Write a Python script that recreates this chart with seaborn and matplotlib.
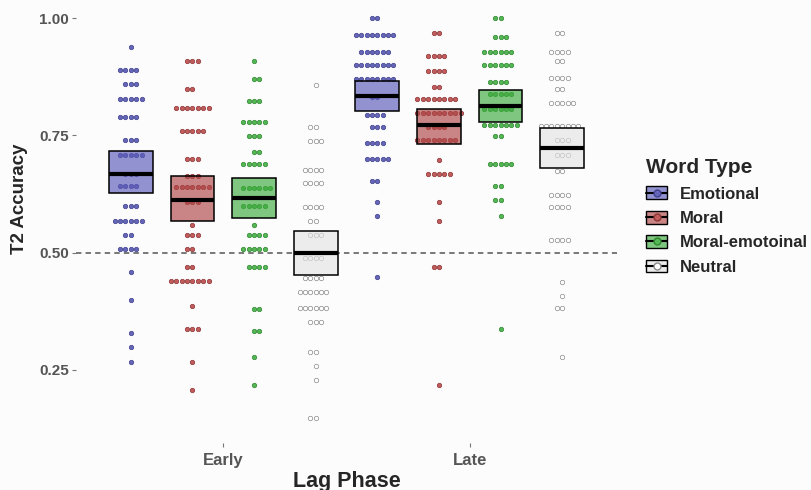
import numpy as np
import pandas as pd
import matplotlib
matplotlib.use('Agg')
import matplotlib.pyplot as plt
import seaborn as sns
from matplotlib.colors import to_rgba
from matplotlib.patches import Patch
from matplotlib.lines import Line2D
from matplotlib.legend_handler import HandlerTuple

# --- dati: livello di accuratezza di ogni riga di punti e numero di punti ---
word_types = ['Emotional', 'Moral', 'Moral-emotoinal', 'Neutral']
lag_phases = ['Early', 'Late']

emo_early_acc = [0.939, 0.889, 0.859, 0.828, 0.788, 0.739, 0.709, 0.668, 0.643, 0.599, 0.568, 0.538, 0.508, 0.459, 0.399, 0.328, 0.298, 0.268]
emo_early_n = [1, 4, 3, 5, 4, 3, 5, 3, 4, 3, 6, 2, 4, 1, 1, 1, 1, 1]
mor_early_acc = [0.909, 0.849, 0.808, 0.759, 0.699, 0.664, 0.640, 0.607, 0.558, 0.538, 0.508, 0.469, 0.439, 0.387, 0.338, 0.268, 0.208]
mor_early_n = [3, 2, 7, 5, 3, 3, 7, 3, 1, 3, 2, 2, 8, 1, 3, 1, 1]
me_early_acc = [0.909, 0.869, 0.823, 0.778, 0.749, 0.714, 0.689, 0.638, 0.599, 0.558, 0.538, 0.508, 0.469, 0.379, 0.333, 0.278, 0.219]
me_early_n = [1, 2, 3, 5, 3, 2, 5, 6, 5, 1, 4, 5, 4, 2, 2, 1, 1]
neu_early_acc = [0.858, 0.768, 0.738, 0.677, 0.648, 0.598, 0.568, 0.538, 0.489, 0.447, 0.417, 0.383, 0.353, 0.288, 0.259, 0.228, 0.148]
neu_early_n = [1, 2, 3, 4, 4, 4, 2, 3, 4, 4, 6, 6, 3, 2, 1, 1, 2]

emo_late_acc = [0.999, 0.964, 0.928, 0.899, 0.870, 0.832, 0.793, 0.768, 0.733, 0.699, 0.653, 0.608, 0.578, 0.449]
emo_late_n = [2, 8, 6, 8, 8, 2, 4, 3, 4, 5, 2, 1, 1, 1]
mor_late_acc = [0.969, 0.919, 0.888, 0.853, 0.828, 0.798, 0.768, 0.739, 0.698, 0.668, 0.608, 0.568, 0.469, 0.218]
mor_late_n = [2, 4, 4, 2, 8, 9, 4, 8, 1, 5, 1, 1, 2, 1]
me_late_acc = [0.999, 0.959, 0.928, 0.899, 0.864, 0.838, 0.807, 0.773, 0.748, 0.688, 0.643, 0.613, 0.578, 0.338]
me_late_n = [2, 3, 6, 6, 4, 5, 6, 7, 2, 5, 2, 2, 1, 1]
neu_late_acc = [0.969, 0.928, 0.908, 0.873, 0.848, 0.818, 0.769, 0.739, 0.709, 0.673, 0.623, 0.598, 0.528, 0.438, 0.407, 0.383, 0.278]
neu_late_n = [2, 4, 2, 4, 2, 5, 8, 3, 3, 2, 4, 4, 4, 1, 1, 2, 1]

# crossbar (media e intervallo), ordine: Early E/M/ME/N, poi Late E/M/ME/N
box_mean = [0.668, 0.613, 0.616, 0.499, 0.833, 0.771, 0.812, 0.722]
box_low = [0.627, 0.567, 0.573, 0.453, 0.802, 0.732, 0.778, 0.681]
box_high = [0.716, 0.663, 0.660, 0.547, 0.865, 0.807, 0.846, 0.765]

# --- colori ---
dot_fill = {'Emotional': '#6666B8', 'Moral': '#C05C5C', 'Moral-emotoinal': '#54B654', 'Neutral': '#FFFFFF'}
dot_edge = {'Emotional': '#40408F', 'Moral': '#8E3434', 'Moral-emotoinal': '#2F872F', 'Neutral': '#8A8A8A'}
box_fill = {'Emotional': '#5A5AB8', 'Moral': '#AE4545', 'Moral-emotoinal': '#3DAA3D', 'Neutral': '#E4E4E4'}
BG = '#FCFCFD'

rows = {
    ('Early', 'Emotional'): (emo_early_acc, emo_early_n),
    ('Early', 'Moral'): (mor_early_acc, mor_early_n),
    ('Early', 'Moral-emotoinal'): (me_early_acc, me_early_n),
    ('Early', 'Neutral'): (neu_early_acc, neu_early_n),
    ('Late', 'Emotional'): (emo_late_acc, emo_late_n),
    ('Late', 'Moral'): (mor_late_acc, mor_late_n),
    ('Late', 'Moral-emotoinal'): (me_late_acc, me_late_n),
    ('Late', 'Neutral'): (neu_late_acc, neu_late_n),
}

cond_order = [f'{lp}_{wt}' for lp in lag_phases for wt in word_types]
frames = []
for (lp, wt), (acc, n) in rows.items():
    vals = np.repeat(acc, n)
    frames.append(pd.DataFrame({'lag_phase': lp, 'word_type': wt,
                                'cond': f'{lp}_{wt}', 'acc': vals}))
df = pd.concat(frames, ignore_index=True)

sns.set_style('white')
plt.rcParams['font.family'] = ['Liberation Sans', 'DejaVu Sans']

fig = plt.figure(figsize=(8.12, 4.90), dpi=100, facecolor=BG)
ax = fig.add_axes([76 / 812, 1 - 443 / 490, 541 / 812, 443 / 490])
ax.set_facecolor(BG)

# linea del caso (0.5)
ax.axhline(0.5, ls=(0, (3, 2.3)), color='#6E6E6E', lw=1.3, zorder=1)

# punti (un livello di accuratezza per riga)
for wt in word_types:
    sub = df[df['word_type'] == wt]
    sns.swarmplot(data=sub, x='cond', y='acc', order=cond_order,
                  color=dot_fill[wt], edgecolor=dot_edge[wt], linewidth=0.5,
                  size=3.2, ax=ax, zorder=2)

# crossbar
pos = np.arange(len(cond_order))
box_cols = [to_rgba(box_fill[c.split('_')[1]], 0.65) for c in cond_order]
ax.bar(pos, np.array(box_high) - np.array(box_low), bottom=box_low, width=0.71,
       color=box_cols, edgecolor='black', linewidth=1.1, zorder=3)
ax.hlines(box_mean, pos - 0.355, pos + 0.355, colors='black', lw=3, zorder=4)

ax.set_xlim(-0.89, 7.89)
ax.set_ylim(1 - 425 / 469.3, 1 + 18 / 469.3)
ax.set_yticks([0.25, 0.50, 0.75, 1.00])
ax.set_yticklabels(['0.25', '0.50', '0.75', '1.00'])
phase_pos = [np.mean([i for i, c in enumerate(cond_order) if c.startswith(lp)]) for lp in lag_phases]
ax.set_xticks(phase_pos)
ax.set_xticklabels(lag_phases)
for lab in ax.get_xticklabels() + ax.get_yticklabels():
    lab.set_fontweight('bold')
    lab.set_color('#555555')
ax.tick_params(axis='y', length=3, width=0.8, color='#777777', labelsize=11, pad=2, left=True)
ax.tick_params(axis='x', length=3, width=0.8, color='#777777', labelsize=12, pad=4, bottom=True)
sns.despine(ax=ax, left=True, bottom=True)

ax.set_xlabel('Lag Phase', fontsize=15.5, fontweight='bold', va='center')
ax.set_ylabel('T2 Accuracy', fontsize=13.5, fontweight='bold', va='center')
ax.xaxis.set_label_coords(0.5, (443 - 481) / 443)
ax.yaxis.set_label_coords((20 - 76) / 541, (443 - 199) / 443)

# legenda
handles = [(Patch(facecolor=to_rgba(box_fill[wt], 0.65), edgecolor='black', linewidth=1.0),
            Line2D([0], [0], color='black', lw=1.5, marker='o', markersize=5,
                   markerfacecolor=dot_fill[wt], markeredgecolor=dot_edge[wt]))
           for wt in word_types]
leg = fig.legend(handles, word_types, handler_map={tuple: HandlerTuple(ndivide=1)},
                 loc='upper left', bbox_to_anchor=(638 / 812, 1 - 150 / 490),
                 frameon=False, title='Word Type', fontsize=12,
                 title_fontproperties={'weight': 'bold', 'size': 15},
                 handlelength=1.25, handleheight=0.8, labelspacing=0.55,
                 handletextpad=0.75, alignment='left', borderpad=0)
for t in leg.get_texts():
    t.set_fontweight('bold')

fig.savefig('out.png', dpi=100, facecolor=BG)
